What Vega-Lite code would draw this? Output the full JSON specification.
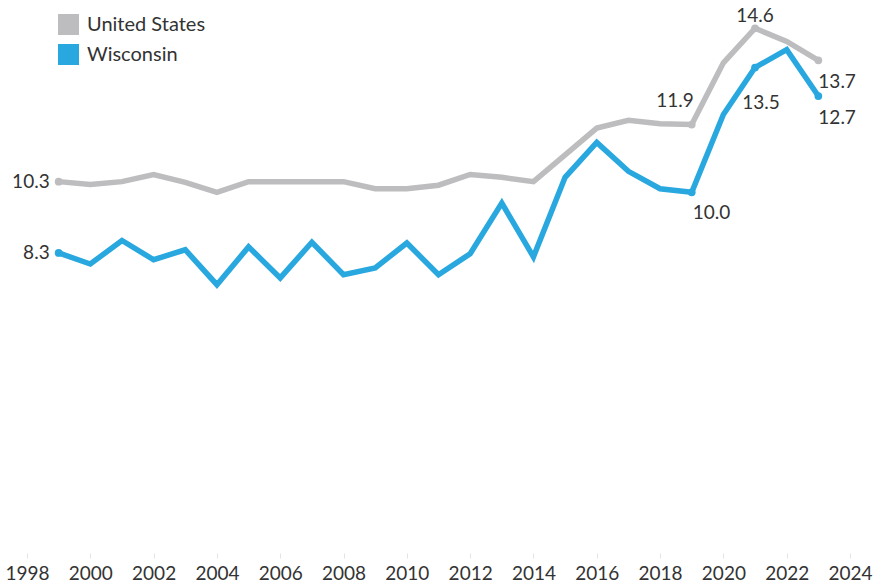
{
  "$schema": "https://vega.github.io/schema/vega-lite/v6.json",
  "autosize": "none",
  "width": 823,
  "height": 535,
  "padding": {"left": 27, "top": 14, "right": 23, "bottom": 34},
  "background": "white",
  "config": {
    "view": {"stroke": null},
    "font": "Lato",
    "text": {"font": "Lato", "fontSize": 19, "color": "#333333"}
  },
  "data": {
    "values": [
      {"year": 1999, "series": "United States", "value": 10.3},
      {"year": 2000, "series": "United States", "value": 10.22},
      {"year": 2001, "series": "United States", "value": 10.3},
      {"year": 2002, "series": "United States", "value": 10.5},
      {"year": 2003, "series": "United States", "value": 10.28},
      {"year": 2004, "series": "United States", "value": 10.0},
      {"year": 2005, "series": "United States", "value": 10.3},
      {"year": 2006, "series": "United States", "value": 10.3},
      {"year": 2007, "series": "United States", "value": 10.3},
      {"year": 2008, "series": "United States", "value": 10.3},
      {"year": 2009, "series": "United States", "value": 10.1},
      {"year": 2010, "series": "United States", "value": 10.1},
      {"year": 2011, "series": "United States", "value": 10.2},
      {"year": 2012, "series": "United States", "value": 10.5},
      {"year": 2013, "series": "United States", "value": 10.42},
      {"year": 2014, "series": "United States", "value": 10.3},
      {"year": 2015, "series": "United States", "value": 11.05},
      {"year": 2016, "series": "United States", "value": 11.8},
      {"year": 2017, "series": "United States", "value": 12.02},
      {"year": 2018, "series": "United States", "value": 11.92},
      {"year": 2019, "series": "United States", "value": 11.9},
      {"year": 2020, "series": "United States", "value": 13.63},
      {"year": 2021, "series": "United States", "value": 14.6},
      {"year": 2022, "series": "United States", "value": 14.23},
      {"year": 2023, "series": "United States", "value": 13.7},
      {"year": 1999, "series": "Wisconsin", "value": 8.3},
      {"year": 2000, "series": "Wisconsin", "value": 7.99},
      {"year": 2001, "series": "Wisconsin", "value": 8.65},
      {"year": 2002, "series": "Wisconsin", "value": 8.11},
      {"year": 2003, "series": "Wisconsin", "value": 8.39},
      {"year": 2004, "series": "Wisconsin", "value": 7.41},
      {"year": 2005, "series": "Wisconsin", "value": 8.47},
      {"year": 2006, "series": "Wisconsin", "value": 7.6},
      {"year": 2007, "series": "Wisconsin", "value": 8.6},
      {"year": 2008, "series": "Wisconsin", "value": 7.69},
      {"year": 2009, "series": "Wisconsin", "value": 7.88},
      {"year": 2010, "series": "Wisconsin", "value": 8.58},
      {"year": 2011, "series": "Wisconsin", "value": 7.69},
      {"year": 2012, "series": "Wisconsin", "value": 8.28},
      {"year": 2013, "series": "Wisconsin", "value": 9.7},
      {"year": 2014, "series": "Wisconsin", "value": 8.19},
      {"year": 2015, "series": "Wisconsin", "value": 10.42},
      {"year": 2016, "series": "Wisconsin", "value": 11.4},
      {"year": 2017, "series": "Wisconsin", "value": 10.59},
      {"year": 2018, "series": "Wisconsin", "value": 10.1},
      {"year": 2019, "series": "Wisconsin", "value": 10.0},
      {"year": 2020, "series": "Wisconsin", "value": 12.18},
      {"year": 2021, "series": "Wisconsin", "value": 13.5},
      {"year": 2022, "series": "Wisconsin", "value": 14.0},
      {"year": 2023, "series": "Wisconsin", "value": 12.7}
    ]
  },
  "encoding": {
    "x": {
      "field": "year", "type": "quantitative",
      "scale": {"domain": [1998, 2024], "nice": false, "zero": false},
      "axis": {
        "title": null, "grid": false, "domain": false,
        "values": [1998, 2000, 2002, 2004, 2006, 2008, 2010, 2012, 2014, 2016, 2018, 2020, 2022, 2024],
        "format": "d", "offset": 4, "tickSize": 5, "tickColor": "#e4e4e4",
        "labelFont": "Lato", "labelFontSize": 19, "labelColor": "#333333",
        "labelPadding": 6, "labelFlush": false, "labelOverlap": false
      }
    },
    "y": {
      "field": "value", "type": "quantitative",
      "scale": {"domain": [0, 15], "nice": false},
      "axis": null
    },
    "color": {
      "field": "series", "type": "nominal",
      "scale": {"domain": ["United States", "Wisconsin"], "range": ["#bdbdbf", "#29a8df"]}
    }
  },
  "layer": [
    {
      "transform": [{"filter": "datum.year == 1999 || datum.year == 2019 || datum.year == 2021 || datum.year == 2023"}],
      "mark": {"type": "point", "filled": true, "opacity": 1, "size": 60},
      "encoding": {
        "color": {
          "field": "series", "type": "nominal",
          "legend": {
            "title": null, "orient": "none", "legendX": 31, "legendY": 0,
            "symbolType": "square", "symbolSize": 441, "symbolOpacity": 1,
            "symbolStrokeWidth": 0, "labelFont": "Lato", "labelFontSize": 20,
            "labelColor": "#333333", "rowPadding": 9, "labelOffset": 8, "padding": 0
          }
        }
      }
    },
    {
      "mark": {"type": "line", "strokeWidth": 5.5, "strokeJoin": "miter", "strokeCap": "butt"},
      "encoding": {"color": {"field": "series", "type": "nominal", "legend": null}}
    },
    {
      "transform": [{"filter": "datum.year == 1999"}],
      "mark": {"type": "text", "align": "right", "baseline": "middle", "dx": -9},
      "encoding": {"text": {"field": "value", "format": ".1f"}, "color": {"value": "#333333"}}
    },
    {
      "transform": [{"filter": "datum.year == 2019 && datum.series == 'United States'"}],
      "mark": {"type": "text", "align": "right", "baseline": "middle", "dx": 2, "dy": -24},
      "encoding": {"text": {"field": "value", "format": ".1f"}, "color": {"value": "#333333"}}
    },
    {
      "transform": [{"filter": "datum.year == 2019 && datum.series == 'Wisconsin'"}],
      "mark": {"type": "text", "align": "left", "baseline": "middle", "dx": 1, "dy": 21},
      "encoding": {"text": {"field": "value", "format": ".1f"}, "color": {"value": "#333333"}}
    },
    {
      "transform": [{"filter": "datum.year == 2021 && datum.series == 'United States'"}],
      "mark": {"type": "text", "align": "center", "baseline": "middle", "dy": -12},
      "encoding": {"text": {"field": "value", "format": ".1f"}, "color": {"value": "#333333"}}
    },
    {
      "transform": [{"filter": "datum.year == 2021 && datum.series == 'Wisconsin'"}],
      "mark": {"type": "text", "align": "center", "baseline": "middle", "dx": 6, "dy": 35},
      "encoding": {"text": {"field": "value", "format": ".1f"}, "color": {"value": "#333333"}}
    },
    {
      "transform": [{"filter": "datum.year == 2023"}],
      "mark": {"type": "text", "align": "left", "baseline": "middle", "dx": 0, "dy": 21.5},
      "encoding": {"text": {"field": "value", "format": ".1f"}, "color": {"value": "#333333"}}
    }
  ]
}
